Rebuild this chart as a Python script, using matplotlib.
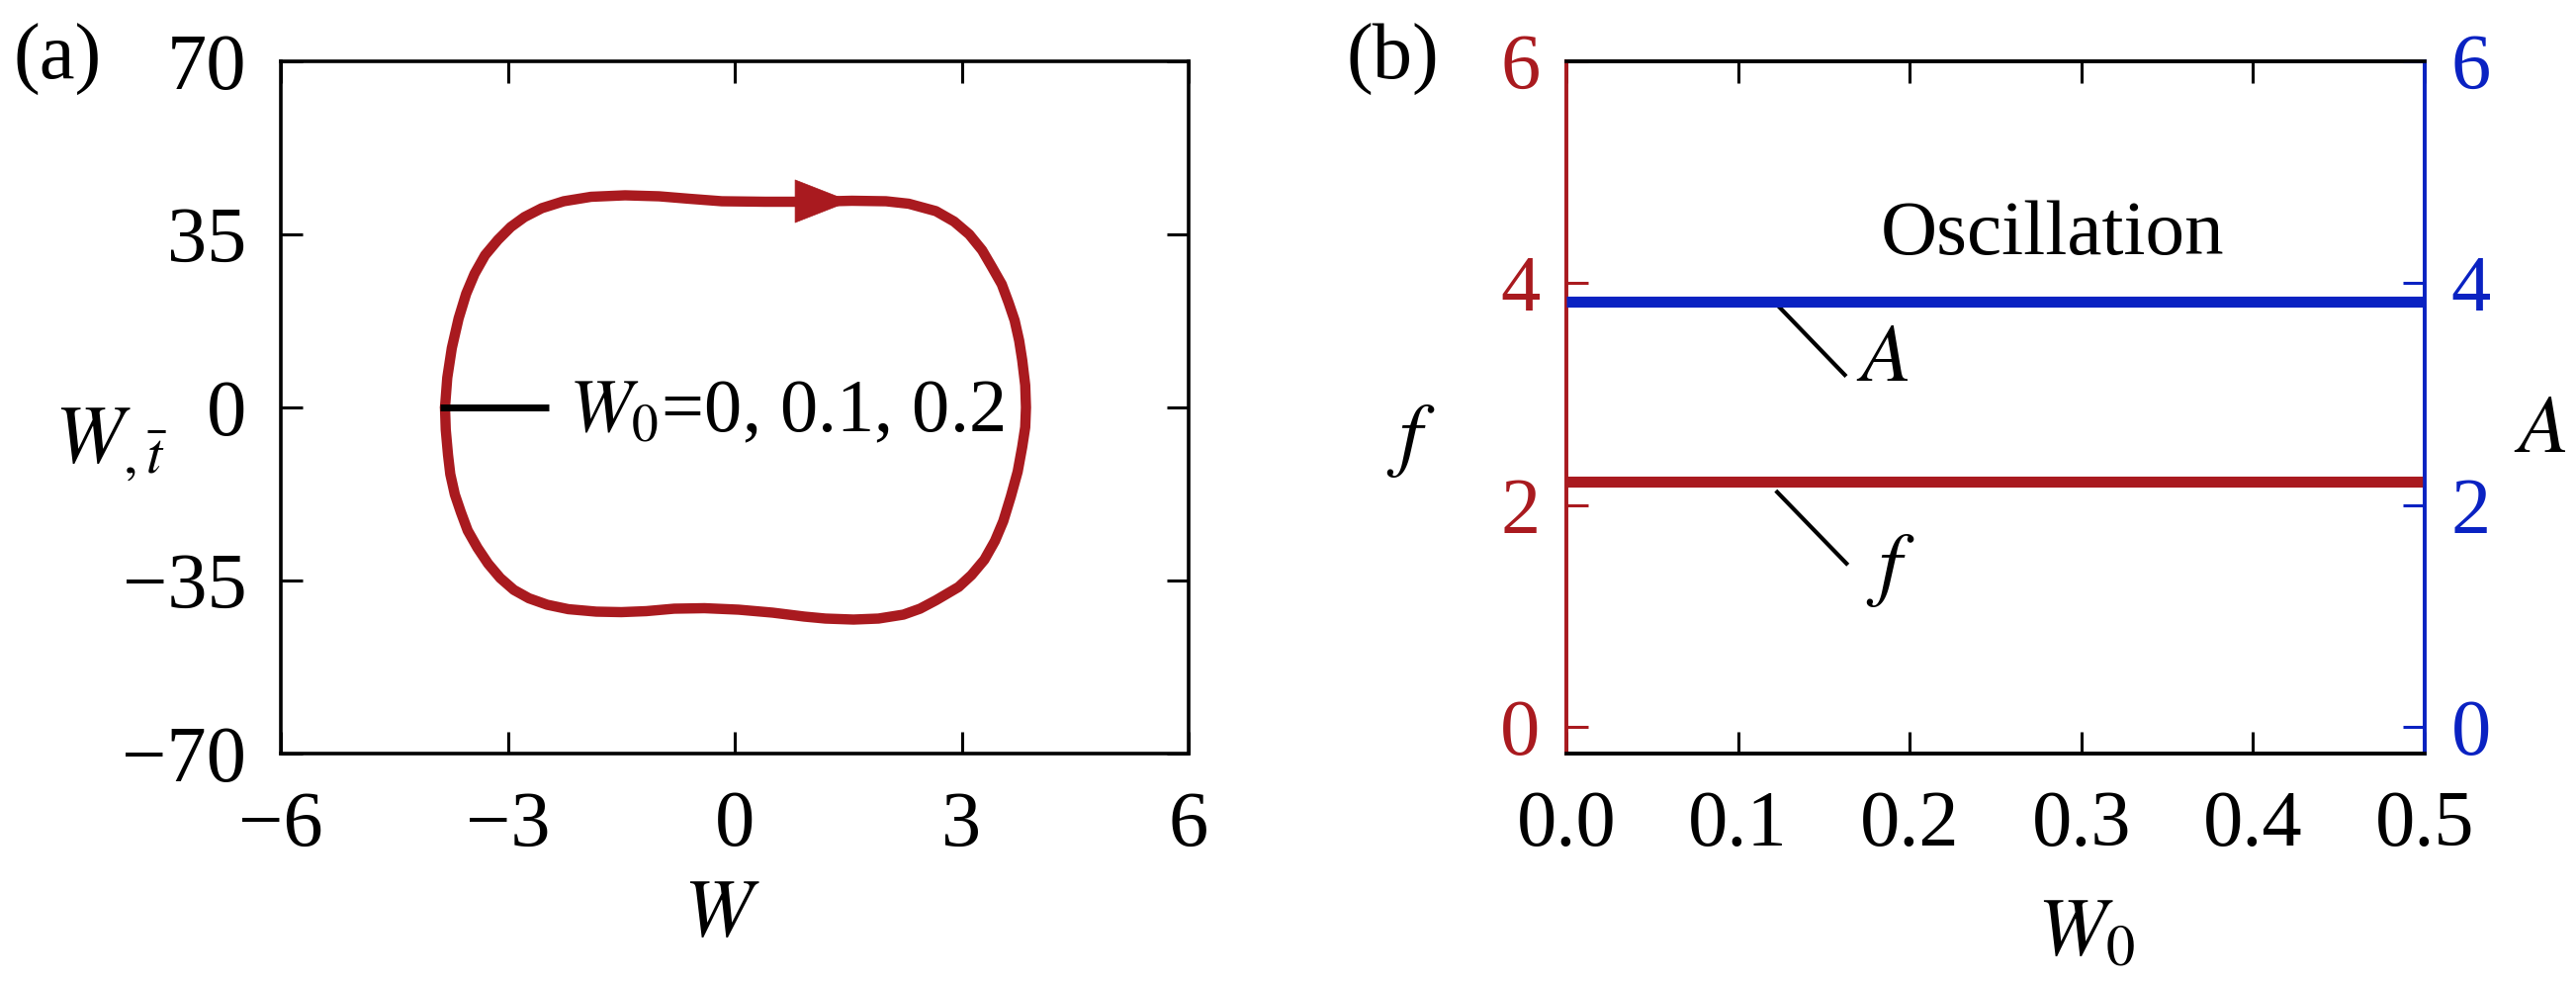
import matplotlib
matplotlib.use("Agg")
import matplotlib.pyplot as plt

plt.rcParams['font.family'] = ['Liberation Serif', 'DejaVu Serif']
plt.rcParams['mathtext.fontset'] = 'stix'

RED = '#A91A1F'
BLUE = '#0A22C2'

# ---------------- data: panel (a) limit cycle (W, dW/dt) ----------------
loop_W = [-3.83, -3.80, -3.74, -3.65, -3.55, -3.44, -3.30, -3.13, -2.96, -2.78,
          -2.55, -2.26, -1.90, -1.45, -1.00, -0.60, -0.17, 0.40, 1.00, 1.55,
          2.00, 2.30, 2.66, 2.90, 3.10, 3.27, 3.40, 3.53, 3.62, 3.70,
          3.76, 3.80, 3.84, 3.85, 3.84, 3.80, 3.74, 3.65, 3.55, 3.44,
          3.30, 3.13, 2.96, 2.66, 2.45, 2.23, 1.90, 1.57, 1.20, 0.92,
          0.50, 0.05, -0.40, -0.80, -1.17, -1.50, -1.83, -2.20, -2.48, -2.72,
          -2.92, -3.10, -3.26, -3.40, -3.53, -3.62, -3.70, -3.76, -3.79, -3.82,
          -3.83]
loop_Wt = [0.0, 6.0, 12.0, 18.0, 23.0, 27.0, 30.8, 33.9, 36.5, 38.5,
           40.3, 41.7, 42.6, 42.9, 42.7, 42.2, 41.7, 41.6, 41.6, 41.8,
           41.7, 41.2, 39.7, 37.6, 35.0, 31.8, 28.4, 24.9, 21.2, 17.6,
           13.5, 9.6, 4.5, 0.0, -4.0, -8.0, -13.0, -18.0, -23.0, -27.0,
           -30.8, -33.9, -36.3, -39.0, -40.7, -41.9, -42.7, -42.9, -42.7, -42.3,
           -41.5, -40.9, -40.6, -40.7, -41.2, -41.4, -41.3, -40.8, -39.9, -38.6,
           -36.9, -34.5, -31.6, -28.4, -24.9, -21.2, -17.6, -13.5, -9.6, -4.5,
           0.0]
arrow_tail = (0.81, 41.7)
arrow_tip = (1.53, 41.7)

# ---------------- data: panel (b) ----------------
W0_vals = [0.0, 0.1, 0.2, 0.3, 0.4, 0.5]
f_vals = [2.21, 2.21, 2.21, 2.21, 2.21, 2.21]
A_vals = [3.83, 3.83, 3.83, 3.83, 3.83, 3.83]

a_xticks = [-6, -3, 0, 3, 6]
a_yticks = [-70, -35, 0, 35, 70]
a_yticklabels = ['\u221270', '\u221235', '0', '35', '70']
a_xticklabels = ['\u22126', '\u22123', '0', '3', '6']
b_xticks = [0.0, 0.1, 0.2, 0.3, 0.4, 0.5]
b_xticklabels = ['0.0', '0.1', '0.2', '0.3', '0.4', '0.5']
b_yticks = [0, 2, 4, 6]

FS = 58
W_PX, H_PX = 2605, 993
fig = plt.figure(figsize=(W_PX / 100, H_PX / 100), dpi=100)


def fx(px):
    return px / W_PX


def fy(py):
    return (H_PX - py) / H_PX


SPW = 2.6
TL = 16
TW = 2.2

# ---------------- panel (a) ----------------
axa = fig.add_axes([fx(284), fy(762), fx(1202) - fx(284), fy(62) - fy(762)])
axa.plot(loop_W, loop_Wt, color=RED, lw=7.5, solid_joinstyle='round', solid_capstyle='round', zorder=3)
axa.annotate('', xy=arrow_tip, xytext=arrow_tail,
             arrowprops=dict(arrowstyle='-|>,head_length=3.96,head_width=1.55',
                             fc=RED, ec=RED, lw=0.5, shrinkA=0, shrinkB=0,
                             mutation_scale=10), zorder=4)
axa.set_xlim(-6, 6)
axa.set_ylim(-70, 70)
axa.set_xticks(a_xticks)
axa.set_xticklabels(a_xticklabels)
axa.set_yticks(a_yticks)
axa.set_yticklabels(a_yticklabels)
axa.tick_params(axis='both', direction='in', length=TL, width=TW, labelsize=FS,
                top=True, right=True)
axa.tick_params(axis='x', pad=27)
axa.tick_params(axis='y', pad=25)
for s in axa.spines.values():
    s.set_linewidth(SPW)
# annotation leader
axa.plot([-3.9, -2.46], [0, 0], color='black', lw=5, solid_capstyle='butt', zorder=4)
axa.text(-2.2, -4.8, r'$W_0$=0, 0.1, 0.2', fontsize=55, ha='left', va='baseline')

fig.text(fx(58), fy(60), '(a)', fontsize=FS, ha='center', va='center')
fig.text(fx(112), fy(467), r'$W_{,\bar{t}}$', fontsize=FS + 2, ha='center', va='baseline')
fig.text(fx(730), fy(946), r'$W$', fontsize=FS + 2, ha='center', va='baseline')

# ---------------- panel (b) ----------------
axb = fig.add_axes([fx(1584), fy(762), fx(2452) - fx(1584), fy(62) - fy(762)])
axr = axb.twinx()
axb.plot(W0_vals, f_vals, color=RED, lw=8, solid_capstyle='butt', zorder=3)
axr.plot(W0_vals, A_vals, color=BLUE, lw=8, solid_capstyle='butt', zorder=3)
for ax in (axb, axr):
    ax.set_xlim(0, 0.5)
    ax.set_ylim(-0.24, 6)
    ax.set_yticks(b_yticks)
    for s in ax.spines.values():
        s.set_linewidth(SPW)
axb.set_xticks(b_xticks)
axb.set_xticklabels(b_xticklabels)
axb.tick_params(axis='x', direction='in', length=TL, width=TW, labelsize=FS, pad=27, top=True)
axb.tick_params(axis='y', direction='in', length=TL, width=TW, labelsize=FS, pad=19,
                colors=RED)
axr.tick_params(axis='y', direction='in', length=TL, width=TW, labelsize=FS, pad=19,
                colors=BLUE)
axb.spines['left'].set_color(RED)
axr.spines['left'].set_color(RED)
axb.spines['right'].set_color(BLUE)
axr.spines['right'].set_color(BLUE)
axb.spines['top'].set_color('black')
axb.spines['bottom'].set_color('black')

axb.text(0.283, 4.43, 'Oscillation', fontsize=57, ha='center', va='center')
axb.plot([0.120, 0.163], [3.85, 3.16], color='black', lw=3, solid_capstyle='butt', zorder=4)
axb.text(0.184, 3.30, r'$A$', fontsize=FS + 2, ha='center', va='center')
axb.plot([0.122, 0.164], [2.13, 1.46], color='black', lw=3, solid_capstyle='butt', zorder=4)
axb.text(0.189, 1.41, r'$f$', fontsize=FS + 2, ha='center', va='center')

fig.text(fx(1408), fy(60), '(b)', fontsize=FS, ha='center', va='center')
fig.text(fx(1427), fy(446), r'$f$', fontsize=FS + 2, ha='center', va='center')
fig.text(fx(2569), fy(457), r'$A$', fontsize=FS + 2, ha='center', va='baseline')
fig.text(fx(2110), fy(965), r'$W_0$', fontsize=FS + 2, ha='center', va='baseline')

fig.savefig('out.png', dpi=100)
